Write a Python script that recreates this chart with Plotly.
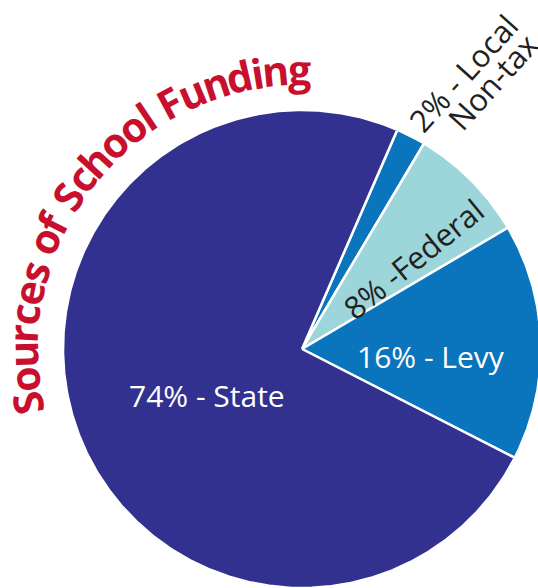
import math
import plotly.graph_objects as go

# ---- data ----
categories = ["Local Non-tax", "Federal", "Levy", "State"]
shares = [2, 8, 16, 74]
slice_labels = ["2% - Local<br>Non-tax", "8% -Federal", "16% - Levy", "74% - State"]
colors = ["#0A74BD", "#9DD6DA", "#0A74BD", "#33318F"]
title_text = "Sources of School Funding"

# ---- layout constants ----
W, H = 538, 588
CX, CY = 302, H - 349    # pie centre in px (y up)
R = 239                  # pie radius in px
ROT = 23.5               # start angle, deg clockwise from 12 o'clock

fig = go.Figure()

total = sum(shares)
a = ROT
for cat, v, col in zip(categories, shares, colors):
    span = 360.0 * v / total
    n = max(int(span * 2), 2)
    xs, ys = [CX], [CY]
    for k in range(n + 1):
        ang = math.radians(a + span * k / n)
        xs.append(CX + R * math.sin(ang))
        ys.append(CY + R * math.cos(ang))
    xs.append(CX)
    ys.append(CY)
    fig.add_trace(go.Scatter(x=xs, y=ys, fill="toself", fillcolor=col, mode="lines",
                             line=dict(color="white", width=2.5), name=cat,
                             hoverinfo="name", showlegend=False))
    a += span

FONT = "Open Sans"
ann = []
# slice labels (positions in px)
ann.append(dict(x=207, y=H - 395, text=slice_labels[3], font=dict(color="white", size=30, family=FONT)))
ann.append(dict(x=431, y=H - 356, text=slice_labels[2], font=dict(color="white", size=30, family=FONT)))
ann.append(dict(x=413, y=H - 259, text=slice_labels[1], textangle=-39,
                font=dict(color="#231F20", size=31, family=FONT)))
l1, l2 = slice_labels[0].split("<br>")
ann.append(dict(x=463, y=H - 73, text=l1, textangle=-48, font=dict(color="#231F20", size=31, family=FONT)))
ann.append(dict(x=492, y=H - 82, text=l2, textangle=-48, font=dict(color="#231F20", size=31, family=FONT)))

# curved title: one annotation per character
widths = {"S": .559, "o": .604, "u": .614, "r": .429, "c": .498, "e": .575, "s": .487,
          " ": .26, "f": .389, "h": .614, "l": .286, "F": .557, "n": .614, "d": .604,
          "i": .286, "g": .543}
TFS = 41
TR = 280
theta0 = 193.5
s = 0.0
for ch in title_text:
    w = widths.get(ch, .55) * TFS
    if ch != " ":
        th = math.radians(theta0) - (s + w / 2) / TR
        ann.append(dict(x=CX + TR * math.cos(th), y=CY + TR * math.sin(th), text=ch,
                        textangle=90 - math.degrees(th),
                        font=dict(color="#C8102E", size=TFS, family=FONT, weight="bold")))
    s += w

for d in ann:
    d.update(showarrow=False, xanchor="center", yanchor="middle", xref="x", yref="y")

fig.update_layout(width=W, height=H, margin=dict(l=0, r=0, t=0, b=0),
                  paper_bgcolor="white", plot_bgcolor="white", annotations=ann,
                  xaxis=dict(range=[0, W], visible=False, fixedrange=True),
                  yaxis=dict(range=[0, H], visible=False, fixedrange=True))
fig.write_html("out.html", config={"displayModeBar": False},
               post_script="document.body.style.margin='0';document.body.style.overflow='hidden';")
